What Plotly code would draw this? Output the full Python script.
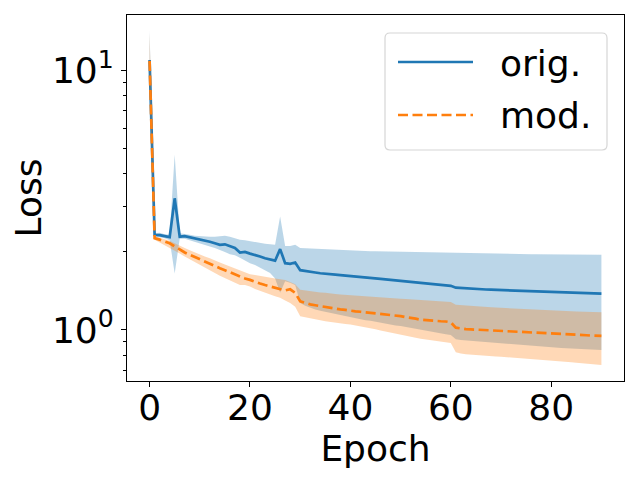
import plotly.graph_objects as go

epochs = list(range(91))

orig_mean = [11.0, 2.33, 2.32, 2.30, 2.28, 3.22, 2.29, 2.30, 2.28, 2.25,
             2.23, 2.21, 2.19, 2.16, 2.13, 2.14, 2.10, 2.07, 1.99, 2.00,
             1.97, 1.95, 1.92, 1.89, 1.87, 1.85, 2.05, 1.81, 1.80, 1.82,
             1.70, 1.685, 1.675, 1.665, 1.655, 1.645, 1.64, 1.635, 1.628, 1.62,
             1.615, 1.61, 1.602, 1.595, 1.588, 1.58, 1.575, 1.568, 1.56, 1.553,
             1.546, 1.54, 1.533, 1.525, 1.518, 1.512, 1.506, 1.50, 1.495, 1.49,
             1.48, 1.455, 1.45, 1.445, 1.44, 1.438, 1.435, 1.432, 1.43, 1.428,
             1.425, 1.422, 1.42, 1.418, 1.415, 1.412, 1.41, 1.408, 1.405, 1.403,
             1.40, 1.398, 1.396, 1.394, 1.392, 1.39, 1.388, 1.386, 1.384, 1.382,
             1.38]
orig_upper = [14.3, 2.36, 2.37, 2.34, 2.33, 4.74, 2.36, 2.35, 2.33, 2.31,
              2.30, 2.30, 2.29, 2.29, 2.30, 2.31, 2.29, 2.26, 2.23, 2.22,
              2.20, 2.18, 2.16, 2.15, 2.14, 2.13, 2.74, 2.11, 2.11, 2.13,
              2.07, 2.065, 2.06, 2.055, 2.05, 2.045, 2.04, 2.035, 2.03, 2.025,
              2.02, 2.018, 2.016, 2.014, 2.012, 2.01, 2.008, 2.006, 2.004, 2.002,
              2.00, 1.998, 1.996, 1.994, 1.992, 1.99, 1.988, 1.986, 1.984, 1.982,
              1.98, 1.975, 1.973, 1.972, 1.971, 1.970, 1.969, 1.968, 1.967, 1.966,
              1.965, 1.964, 1.963, 1.962, 1.961, 1.960, 1.959, 1.958, 1.957, 1.956,
              1.955, 1.955, 1.954, 1.954, 1.953, 1.953, 1.952, 1.952, 1.951, 1.951,
              1.95]
orig_lower = [8.8, 2.29, 2.28, 2.26, 2.22, 1.65, 2.25, 2.25, 2.22, 2.19,
              2.16, 2.13, 2.10, 2.07, 2.04, 2.00, 1.96, 1.94, 1.90, 1.86,
              1.81, 1.78, 1.74, 1.70, 1.66, 1.58, 1.39, 1.54, 1.52, 1.49,
              1.27, 1.24, 1.22, 1.20, 1.185, 1.17, 1.16, 1.15, 1.14, 1.13,
              1.12, 1.11, 1.10, 1.09, 1.085, 1.075, 1.065, 1.06, 1.05, 1.04,
              1.035, 1.025, 1.02, 1.01, 1.005, 0.995, 0.985, 0.978, 0.97, 0.962,
              0.955, 0.92, 0.915, 0.91, 0.905, 0.90, 0.898, 0.895, 0.892, 0.89,
              0.887, 0.884, 0.88, 0.877, 0.874, 0.871, 0.868, 0.865, 0.862, 0.86,
              0.857, 0.854, 0.851, 0.849, 0.847, 0.845, 0.843, 0.841, 0.839, 0.838,
              0.837]

mod_mean = [10.9, 2.26, 2.23, 2.19, 2.16, 2.10, 2.04, 1.99, 1.95, 1.91,
            1.87, 1.84, 1.80, 1.77, 1.73, 1.70, 1.67, 1.63, 1.60, 1.58,
            1.56, 1.53, 1.51, 1.49, 1.47, 1.45, 1.43, 1.42, 1.435, 1.39,
            1.29, 1.27, 1.255, 1.245, 1.235, 1.225, 1.215, 1.21, 1.20, 1.195,
            1.185, 1.18, 1.175, 1.17, 1.16, 1.155, 1.15, 1.145, 1.14, 1.135,
            1.13, 1.12, 1.115, 1.105, 1.095, 1.09, 1.085, 1.082, 1.08, 1.078,
            1.07, 1.02, 1.012, 1.008, 1.005, 1.003, 1.0, 0.998, 0.995, 0.993,
            0.992, 0.99, 0.99, 0.988, 0.985, 0.983, 0.98, 0.978, 0.975, 0.973,
            0.97, 0.968, 0.965, 0.963, 0.96, 0.958, 0.956, 0.954, 0.951, 0.95,
            0.948]
mod_upper = [14.0, 2.29, 2.27, 2.24, 2.21, 2.16, 2.11, 2.07, 2.03, 1.99,
             1.95, 1.92, 1.89, 1.85, 1.82, 1.79, 1.76, 1.73, 1.70, 1.67,
             1.64, 1.63, 1.62, 1.60, 1.59, 1.58, 1.57, 1.56, 1.53, 1.50,
             1.43, 1.42, 1.41, 1.40, 1.395, 1.39, 1.38, 1.375, 1.37, 1.365,
             1.36, 1.357, 1.353, 1.35, 1.345, 1.34, 1.336, 1.332, 1.328, 1.324,
             1.32, 1.316, 1.312, 1.308, 1.305, 1.30, 1.297, 1.293, 1.29, 1.287,
             1.283, 1.25, 1.245, 1.24, 1.235, 1.232, 1.228, 1.225, 1.222, 1.22,
             1.217, 1.213, 1.21, 1.205, 1.202, 1.20, 1.197, 1.195, 1.193, 1.19,
             1.188, 1.186, 1.184, 1.182, 1.18, 1.178, 1.176, 1.174, 1.172, 1.171,
             1.17]
mod_lower = [8.5, 2.23, 2.18, 2.12, 2.07, 2.02, 1.97, 1.92, 1.87, 1.82,
             1.78, 1.74, 1.70, 1.66, 1.62, 1.58, 1.55, 1.52, 1.49, 1.49,
             1.47, 1.44, 1.42, 1.39, 1.37, 1.35, 1.33, 1.30, 1.27, 1.23,
             1.13, 1.12, 1.11, 1.10, 1.09, 1.08, 1.07, 1.065, 1.06, 1.055,
             1.05, 1.045, 1.035, 1.025, 1.015, 1.005, 0.995, 0.985, 0.975, 0.965,
             0.958, 0.95, 0.94, 0.932, 0.925, 0.918, 0.912, 0.906, 0.90, 0.895,
             0.89, 0.82, 0.812, 0.806, 0.80, 0.798, 0.796, 0.794, 0.792, 0.79,
             0.788, 0.786, 0.784, 0.782, 0.78, 0.777, 0.774, 0.771, 0.768, 0.765,
             0.762, 0.759, 0.756, 0.753, 0.75, 0.747, 0.744, 0.741, 0.738, 0.735,
             0.733]

series_names = ["orig.", "mod."]
x_tick_vals = [0, 20, 40, 60, 80]
y_major_vals = [1, 10]
y_major_text = ["10<sup>0</sup>", "10<sup>1</sup>"]
y_minor_vals = [0.7, 0.8, 0.9, 2, 3, 4, 5, 6, 7, 8, 9]

BLUE = "#1f77b4"
ORANGE = "#ff7f0e"
FONT = "DejaVu Sans"
FS = 36

# The page body has an 8px margin, so the figure is sized to fit the
# 640x480 window exactly and positions below are given in window pixels.
OFF = 8
W, H = 640 - 2 * OFF, 480 - 2 * OFF
L, R, T, B = 127, 624, 15, 381   # plot frame, window pixels


def px(x):
    return (x - L) / (R - L)


def py(y):
    return (B - y) / (B - T)


fig = go.Figure()

fig.add_trace(go.Scatter(
    x=epochs + epochs[::-1], y=orig_upper + orig_lower[::-1],
    fill="toself", fillcolor="rgba(31,119,180,0.3)", line=dict(width=0),
    mode="lines", hoverinfo="skip", showlegend=False))
fig.add_trace(go.Scatter(
    x=epochs, y=orig_mean, mode="lines", name=series_names[0],
    line=dict(color=BLUE, width=2.7), showlegend=False))
fig.add_trace(go.Scatter(
    x=epochs + epochs[::-1], y=mod_upper + mod_lower[::-1],
    fill="toself", fillcolor="rgba(255,127,14,0.3)", line=dict(width=0),
    mode="lines", hoverinfo="skip", showlegend=False))
fig.add_trace(go.Scatter(
    x=epochs, y=mod_mean, mode="lines", name=series_names[1],
    line=dict(color=ORANGE, width=2.7, dash="10px,4.5px"), showlegend=False))

# legend drawn manually (matplotlib style, rounded box)
bx0, bx1, by0, by1, r = 385, 607, 33, 150, 5
rx = r / (R - L)
ry = r / (B - T)
X0, X1, Y0, Y1 = px(bx0), px(bx1), py(by0), py(by1)
path = (f"M {X0+rx},{Y0} L {X1-rx},{Y0} Q {X1},{Y0} {X1},{Y0-ry} "
        f"L {X1},{Y1+ry} Q {X1},{Y1} {X1-rx},{Y1} L {X0+rx},{Y1} "
        f"Q {X0},{Y1} {X0},{Y1+ry} L {X0},{Y0-ry} Q {X0},{Y0} {X0+rx},{Y0} Z")
shapes = [
    dict(type="path", xref="paper", yref="paper", path=path,
         fillcolor="rgba(255,255,255,0.8)", line=dict(color="#d6d6d6", width=1.2)),
    dict(type="line", xref="paper", yref="paper", x0=px(398), x1=px(473),
         y0=py(62), y1=py(62), line=dict(color=BLUE, width=2.7)),
    dict(type="line", xref="paper", yref="paper", x0=px(398), x1=px(473),
         y0=py(115), y1=py(115), line=dict(color=ORANGE, width=2.7, dash="10px,4.5px")),
]
annotations = [
    dict(xref="paper", yref="paper", x=px(498), y=py(63), text=series_names[0],
         showarrow=False, xanchor="left", yanchor="middle",
         font=dict(family=FONT, size=FS, color="black")),
    dict(xref="paper", yref="paper", x=px(498), y=py(116), text=series_names[1],
         showarrow=False, xanchor="left", yanchor="middle",
         font=dict(family=FONT, size=FS, color="black")),
]

fig.update_layout(
    width=W, height=H,
    margin=dict(l=L - OFF, r=W - (R - OFF), t=T - OFF, b=H - (B - OFF), pad=0),
    paper_bgcolor="white", plot_bgcolor="white",
    font=dict(family=FONT, size=FS, color="black"),
    shapes=shapes, annotations=annotations,
    showlegend=False,
    xaxis=dict(
        range=[-4.5, 94.5], tickvals=x_tick_vals, ticks="outside", ticklen=5,
        tickwidth=1.1, tickcolor="black", showgrid=False, zeroline=False,
        showline=True, linecolor="black", linewidth=1.1, mirror=True,
        automargin=False, ticklabelstandoff=-10,
        title=dict(text="Epoch", standoff=0, font=dict(size=FS)),
        tickfont=dict(size=FS)),
    yaxis=dict(
        type="log", range=[-0.197, 1.215], tickvals=y_major_vals,
        ticktext=y_major_text, ticks="outside", ticklen=5, tickwidth=1.1,
        tickcolor="black", showgrid=False, zeroline=False,
        showline=True, linecolor="black", linewidth=1.1, mirror=True,
        automargin=False,
        minor=dict(tickvals=y_minor_vals, ticks="outside", ticklen=3,
                   tickwidth=0.8, tickcolor="black", showgrid=False),
        title=dict(text="Loss", standoff=4, font=dict(size=FS)),
        tickfont=dict(size=FS)),
)

fig.write_html("out.html")
